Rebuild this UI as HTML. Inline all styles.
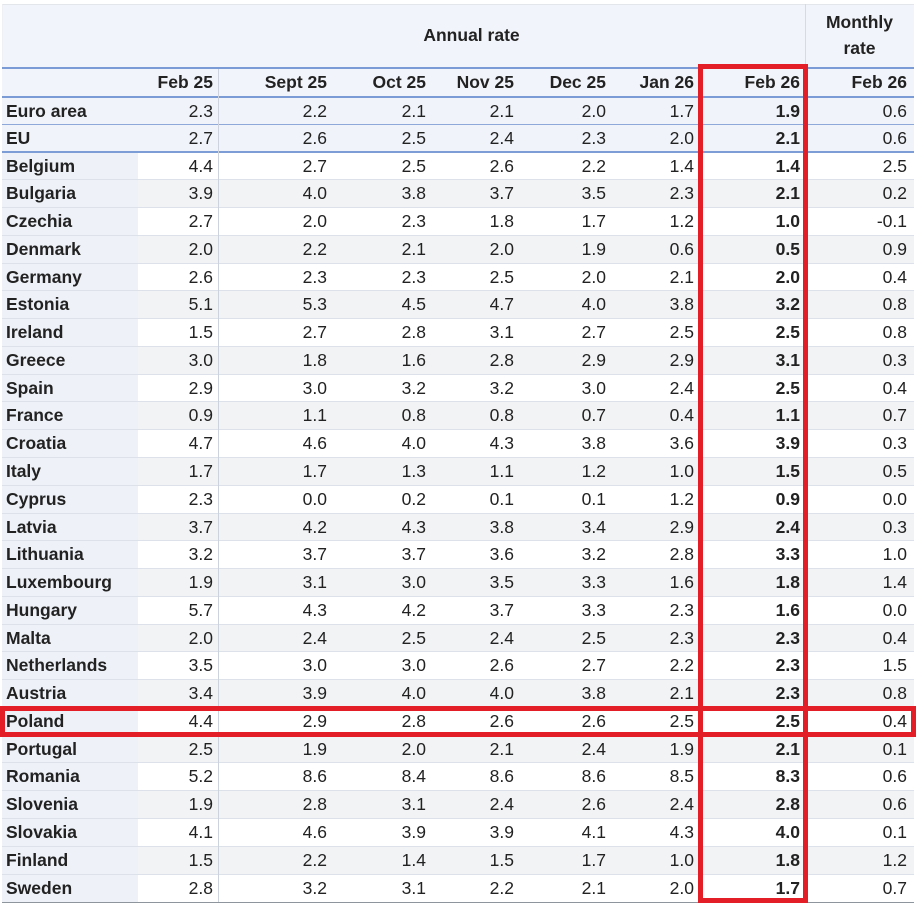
<!DOCTYPE html>
<html><head><meta charset="utf-8">
<style>
*{margin:0;padding:0;box-sizing:border-box}
html,body{width:920px;height:904px;background:#fff;overflow:hidden}
body{position:relative;font-family:"Liberation Sans",Arial,sans-serif;font-size:17.5px;color:#222}
.tb{position:absolute;left:2px;top:4px;width:912px;height:899px;border-top:1px solid #e3e6eb;border-left:1px solid #eef0f3;background:#f1f4fa}
.r{position:absolute;left:2px;width:912px;border-bottom:1px solid #dde2ea;background:#fff}
.r.g{background:#f2f3f5}
.r.e{background:#f0f4fa;border-bottom:1px solid #8ea8da}
.r.e2{background:#f0f4fa;border-bottom:2px solid #7d9dd6}
.r.last{border-bottom:1px solid #8f959d}
.r .l{position:absolute;left:0;top:0;bottom:0;width:136px;padding-left:4px;background:#eef2f8;font-weight:bold}
.r.e .l,.r.e2 .l{background:transparent}
.r span,.h2 span{position:absolute;top:0}
.c1{right:701px}.c2{right:587px}.c3{right:488px}.c4{right:400px}.c5{right:308px}.c6{right:220px}.c7{right:114px;font-weight:bold}.c8{right:7px}
.h2{position:absolute;left:2px;width:912px;top:69px;height:27px;line-height:27px;font-weight:bold;background:#f1f4fa}
.h2 .c7{right:114px}
.bl{position:absolute;left:2px;width:912px;height:2px;background:#7a9bd6}
.vl{position:absolute;width:1px;background:#ccd3dd}
.red{position:absolute;border:5px solid #e41e26}
</style></head><body>
<div class="tb"></div>
<div style="position:absolute;left:138px;width:667px;top:4px;height:63px;line-height:63px;text-align:center;font-weight:bold">Annual rate</div>
<div style="position:absolute;left:805px;width:109px;top:9px;line-height:26px;text-align:center;font-weight:bold">Monthly<br>rate</div>
<div class="vl" style="left:805px;top:4px;height:63px;background:#d6dbe3"></div>
<div class="bl" style="top:67px"></div>
<div class="h2"><span class="c1">Feb 25</span><span class="c2">Sept 25</span><span class="c3">Oct 25</span><span class="c4">Nov 25</span><span class="c5">Dec 25</span><span class="c6">Jan 26</span><span class="c7">Feb 26</span><span class="c8">Feb 26</span></div>
<div class="bl" style="top:96px"></div>

<div class="r e" style="top:98px;height:27px;line-height:26px"><b class="l">Euro area</b><span class="c1">2.3</span><span class="c2">2.2</span><span class="c3">2.1</span><span class="c4">2.1</span><span class="c5">2.0</span><span class="c6">1.7</span><span class="c7">1.9</span><span class="c8">0.6</span></div>
<div class="r e2" style="top:125px;height:28px;line-height:26px"><b class="l">EU</b><span class="c1">2.7</span><span class="c2">2.6</span><span class="c3">2.5</span><span class="c4">2.4</span><span class="c5">2.3</span><span class="c6">2.0</span><span class="c7">2.1</span><span class="c8">0.6</span></div>
<div class="r" style="top:153px;height:27px;line-height:26px"><b class="l">Belgium</b><span class="c1">4.4</span><span class="c2">2.7</span><span class="c3">2.5</span><span class="c4">2.6</span><span class="c5">2.2</span><span class="c6">1.4</span><span class="c7">1.4</span><span class="c8">2.5</span></div>
<div class="r g" style="top:180px;height:28px;line-height:27px"><b class="l">Bulgaria</b><span class="c1">3.9</span><span class="c2">4.0</span><span class="c3">3.8</span><span class="c4">3.7</span><span class="c5">3.5</span><span class="c6">2.3</span><span class="c7">2.1</span><span class="c8">0.2</span></div>
<div class="r" style="top:208px;height:28px;line-height:27px"><b class="l">Czechia</b><span class="c1">2.7</span><span class="c2">2.0</span><span class="c3">2.3</span><span class="c4">1.8</span><span class="c5">1.7</span><span class="c6">1.2</span><span class="c7">1.0</span><span class="c8">-0.1</span></div>
<div class="r g" style="top:236px;height:28px;line-height:27px"><b class="l">Denmark</b><span class="c1">2.0</span><span class="c2">2.2</span><span class="c3">2.1</span><span class="c4">2.0</span><span class="c5">1.9</span><span class="c6">0.6</span><span class="c7">0.5</span><span class="c8">0.9</span></div>
<div class="r" style="top:264px;height:27px;line-height:26px"><b class="l">Germany</b><span class="c1">2.6</span><span class="c2">2.3</span><span class="c3">2.3</span><span class="c4">2.5</span><span class="c5">2.0</span><span class="c6">2.1</span><span class="c7">2.0</span><span class="c8">0.4</span></div>
<div class="r g" style="top:291px;height:28px;line-height:27px"><b class="l">Estonia</b><span class="c1">5.1</span><span class="c2">5.3</span><span class="c3">4.5</span><span class="c4">4.7</span><span class="c5">4.0</span><span class="c6">3.8</span><span class="c7">3.2</span><span class="c8">0.8</span></div>
<div class="r" style="top:319px;height:28px;line-height:27px"><b class="l">Ireland</b><span class="c1">1.5</span><span class="c2">2.7</span><span class="c3">2.8</span><span class="c4">3.1</span><span class="c5">2.7</span><span class="c6">2.5</span><span class="c7">2.5</span><span class="c8">0.8</span></div>
<div class="r g" style="top:347px;height:28px;line-height:27px"><b class="l">Greece</b><span class="c1">3.0</span><span class="c2">1.8</span><span class="c3">1.6</span><span class="c4">2.8</span><span class="c5">2.9</span><span class="c6">2.9</span><span class="c7">3.1</span><span class="c8">0.3</span></div>
<div class="r" style="top:375px;height:27px;line-height:26px"><b class="l">Spain</b><span class="c1">2.9</span><span class="c2">3.0</span><span class="c3">3.2</span><span class="c4">3.2</span><span class="c5">3.0</span><span class="c6">2.4</span><span class="c7">2.5</span><span class="c8">0.4</span></div>
<div class="r g" style="top:402px;height:28px;line-height:27px"><b class="l">France</b><span class="c1">0.9</span><span class="c2">1.1</span><span class="c3">0.8</span><span class="c4">0.8</span><span class="c5">0.7</span><span class="c6">0.4</span><span class="c7">1.1</span><span class="c8">0.7</span></div>
<div class="r" style="top:430px;height:28px;line-height:27px"><b class="l">Croatia</b><span class="c1">4.7</span><span class="c2">4.6</span><span class="c3">4.0</span><span class="c4">4.3</span><span class="c5">3.8</span><span class="c6">3.6</span><span class="c7">3.9</span><span class="c8">0.3</span></div>
<div class="r g" style="top:458px;height:28px;line-height:27px"><b class="l">Italy</b><span class="c1">1.7</span><span class="c2">1.7</span><span class="c3">1.3</span><span class="c4">1.1</span><span class="c5">1.2</span><span class="c6">1.0</span><span class="c7">1.5</span><span class="c8">0.5</span></div>
<div class="r" style="top:486px;height:28px;line-height:27px"><b class="l">Cyprus</b><span class="c1">2.3</span><span class="c2">0.0</span><span class="c3">0.2</span><span class="c4">0.1</span><span class="c5">0.1</span><span class="c6">1.2</span><span class="c7">0.9</span><span class="c8">0.0</span></div>
<div class="r g" style="top:514px;height:27px;line-height:26px"><b class="l">Latvia</b><span class="c1">3.7</span><span class="c2">4.2</span><span class="c3">4.3</span><span class="c4">3.8</span><span class="c5">3.4</span><span class="c6">2.9</span><span class="c7">2.4</span><span class="c8">0.3</span></div>
<div class="r" style="top:541px;height:28px;line-height:27px"><b class="l">Lithuania</b><span class="c1">3.2</span><span class="c2">3.7</span><span class="c3">3.7</span><span class="c4">3.6</span><span class="c5">3.2</span><span class="c6">2.8</span><span class="c7">3.3</span><span class="c8">1.0</span></div>
<div class="r g" style="top:569px;height:28px;line-height:27px"><b class="l">Luxembourg</b><span class="c1">1.9</span><span class="c2">3.1</span><span class="c3">3.0</span><span class="c4">3.5</span><span class="c5">3.3</span><span class="c6">1.6</span><span class="c7">1.8</span><span class="c8">1.4</span></div>
<div class="r" style="top:597px;height:28px;line-height:27px"><b class="l">Hungary</b><span class="c1">5.7</span><span class="c2">4.3</span><span class="c3">4.2</span><span class="c4">3.7</span><span class="c5">3.3</span><span class="c6">2.3</span><span class="c7">1.6</span><span class="c8">0.0</span></div>
<div class="r g" style="top:625px;height:27px;line-height:26px"><b class="l">Malta</b><span class="c1">2.0</span><span class="c2">2.4</span><span class="c3">2.5</span><span class="c4">2.4</span><span class="c5">2.5</span><span class="c6">2.3</span><span class="c7">2.3</span><span class="c8">0.4</span></div>
<div class="r" style="top:652px;height:28px;line-height:27px"><b class="l">Netherlands</b><span class="c1">3.5</span><span class="c2">3.0</span><span class="c3">3.0</span><span class="c4">2.6</span><span class="c5">2.7</span><span class="c6">2.2</span><span class="c7">2.3</span><span class="c8">1.5</span></div>
<div class="r g" style="top:680px;height:28px;line-height:27px"><b class="l">Austria</b><span class="c1">3.4</span><span class="c2">3.9</span><span class="c3">4.0</span><span class="c4">4.0</span><span class="c5">3.8</span><span class="c6">2.1</span><span class="c7">2.3</span><span class="c8">0.8</span></div>
<div class="r" style="top:708px;height:28px;line-height:27px"><b class="l">Poland</b><span class="c1">4.4</span><span class="c2">2.9</span><span class="c3">2.8</span><span class="c4">2.6</span><span class="c5">2.6</span><span class="c6">2.5</span><span class="c7">2.5</span><span class="c8">0.4</span></div>
<div class="r g" style="top:736px;height:27px;line-height:26px"><b class="l">Portugal</b><span class="c1">2.5</span><span class="c2">1.9</span><span class="c3">2.0</span><span class="c4">2.1</span><span class="c5">2.4</span><span class="c6">1.9</span><span class="c7">2.1</span><span class="c8">0.1</span></div>
<div class="r" style="top:763px;height:28px;line-height:27px"><b class="l">Romania</b><span class="c1">5.2</span><span class="c2">8.6</span><span class="c3">8.4</span><span class="c4">8.6</span><span class="c5">8.6</span><span class="c6">8.5</span><span class="c7">8.3</span><span class="c8">0.6</span></div>
<div class="r g" style="top:791px;height:28px;line-height:27px"><b class="l">Slovenia</b><span class="c1">1.9</span><span class="c2">2.8</span><span class="c3">3.1</span><span class="c4">2.4</span><span class="c5">2.6</span><span class="c6">2.4</span><span class="c7">2.8</span><span class="c8">0.6</span></div>
<div class="r" style="top:819px;height:28px;line-height:27px"><b class="l">Slovakia</b><span class="c1">4.1</span><span class="c2">4.6</span><span class="c3">3.9</span><span class="c4">3.9</span><span class="c5">4.1</span><span class="c6">4.3</span><span class="c7">4.0</span><span class="c8">0.1</span></div>
<div class="r g" style="top:847px;height:28px;line-height:27px"><b class="l">Finland</b><span class="c1">1.5</span><span class="c2">2.2</span><span class="c3">1.4</span><span class="c4">1.5</span><span class="c5">1.7</span><span class="c6">1.0</span><span class="c7">1.8</span><span class="c8">1.2</span></div>
<div class="r last" style="top:875px;height:28px;line-height:27px"><b class="l">Sweden</b><span class="c1">2.8</span><span class="c2">3.2</span><span class="c3">3.1</span><span class="c4">2.2</span><span class="c5">2.1</span><span class="c6">2.0</span><span class="c7">1.7</span><span class="c8">0.7</span></div>

<div class="vl" style="left:218px;top:69px;height:833px"></div>
<div class="red" style="left:698px;top:64px;width:110px;height:839px"></div>
<div class="red" style="left:0;top:706px;width:916px;height:31px"></div>
</body></html>
